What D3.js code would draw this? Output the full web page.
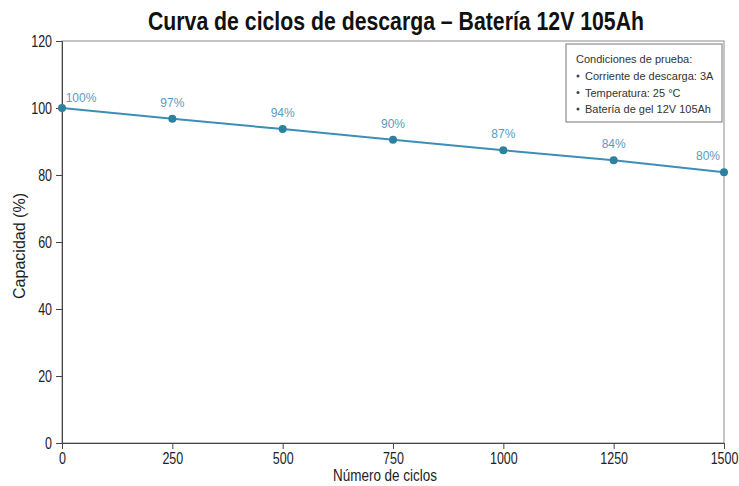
<!DOCTYPE html>
<html>
<head>
<meta charset="utf-8">
<script src="https://cdn.jsdelivr.net/npm/d3@7"></script>
<style>
  body { margin: 0; background: #fff; }
  text { font-family: "Liberation Sans", Arial, sans-serif; }
</style>
</head>
<body>
<div id="chart"></div>
<script>
var width = 739,
    height = 486,
    margin = {top: 41, right: 15, bottom: 43, left: 62},
    squeeze = 0.78;   // narrow look of the original font

// data
var cycles = [0, 250, 500, 750, 1000, 1250, 1500];
var capacity = [100, 96.8, 93.7, 90.5, 87.4, 84.4, 80.8];
var pointLabels = ['100%', '97%', '94%', '90%', '87%', '84%', '80%'];
var xTicks = [0, 250, 500, 750, 1000, 1250, 1500];
var yTicks = [0, 20, 40, 60, 80, 100, 120];
var conditions = ['Corriente de descarga: 3A', 'Temperatura: 25 °C', 'Batería de gel 12V 105Ah'];

var svg = d3.select('#chart').append('svg')
    .attr('width', width)
    .attr('height', height);

var x = d3.scaleLinear()
    .domain([0, 1500])
    .range([margin.left, width - margin.right]);

var y = d3.scaleLinear()
    .domain([0, 120])
    .range([height - margin.bottom, margin.top]);

// frame (top / right)
svg.append('rect')
    .attr('x', x(0))
    .attr('y', y(120))
    .attr('width', x(1500) - x(0))
    .attr('height', y(0) - y(120))
    .attr('fill', 'none')
    .attr('stroke', '#8a8a8a')
    .attr('stroke-width', 1);

// axes
var xAxis = svg.append('g')
    .attr('transform', 'translate(0,' + y(0) + ')')
    .call(d3.axisBottom(x).tickValues(xTicks).tickSize(6).tickPadding(4).tickFormat(d3.format('d')));

var yAxis = svg.append('g')
    .attr('transform', 'translate(' + x(0) + ',0)')
    .call(d3.axisLeft(y).tickValues(yTicks).tickSize(6).tickPadding(4));

[xAxis, yAxis].forEach(function(g) {
  g.selectAll('path, line').attr('stroke', '#444');
  g.selectAll('text').attr('fill', '#222').style('font-size', '16px')
      .attr('transform', 'scale(' + squeeze + ',1)');
});
yAxis.selectAll('text').attr('x', -10 / squeeze);

// title
svg.append('text')
    .attr('x', 396)
    .attr('y', 30)
    .attr('text-anchor', 'middle')
    .attr('font-weight', 'bold')
    .style('font-size', '25px')
    .attr('textLength', 496)
    .attr('lengthAdjust', 'spacingAndGlyphs')
    .attr('fill', '#111')
    .text('Curva de ciclos de descarga – Batería 12V 105Ah');

// axis titles
svg.append('text')
    .attr('x', 385)
    .attr('y', 481)
    .attr('text-anchor', 'middle')
    .style('font-size', '16px')
    .attr('textLength', 104)
    .attr('lengthAdjust', 'spacingAndGlyphs')
    .attr('fill', '#222')
    .text('Número de ciclos');

svg.append('text')
    .attr('transform', 'translate(25,' + ((y(0) + y(120)) / 2 + 4) + ') rotate(-90)')
    .attr('text-anchor', 'middle')
    .style('font-size', '17px')
    .attr('textLength', 106)
    .attr('lengthAdjust', 'spacingAndGlyphs')
    .attr('fill', '#222')
    .text('Capacidad (%)');

// line
var line = d3.line()
    .x(function(d, i) { return x(cycles[i]); })
    .y(function(d) { return y(d); });

svg.append('path')
    .datum(capacity)
    .attr('d', line)
    .attr('fill', 'none')
    .attr('stroke', '#3b8fb6')
    .attr('stroke-width', 2);

svg.selectAll('circle.pt')
    .data(capacity)
  .enter().append('circle')
    .attr('class', 'pt')
    .attr('cx', function(d, i) { return x(cycles[i]); })
    .attr('cy', function(d) { return y(d); })
    .attr('r', 4)
    .attr('fill', '#2f7f9e');

// point labels
svg.selectAll('text.lbl')
    .data(capacity)
  .enter().append('text')
    .attr('class', 'lbl')
    .attr('x', function(d, i) {
      if (i === 0) return x(cycles[i]) + 19;
      if (i === capacity.length - 1) return x(cycles[i]) - 16;
      return x(cycles[i]);
    })
    .attr('y', function(d, i) { return y(d) - (i === 0 ? 6 : 12); })
    .attr('text-anchor', 'middle')
    .style('font-size', '12px')
    .attr('fill', '#5b9ac2')
    .text(function(d, i) { return pointLabels[i]; });

// conditions box
var box = svg.append('g').attr('transform', 'translate(566,44)');
box.append('rect')
    .attr('width', 156)
    .attr('height', 78)
    .attr('fill', '#fff')
    .attr('stroke', '#777')
    .attr('stroke-width', 1);

box.append('text')
    .attr('x', 10)
    .attr('y', 19)
    .style('font-size', '11px')
    .attr('fill', '#333')
    .text('Condiciones de prueba:');

conditions.forEach(function(c, i) {
  box.append('circle')
      .attr('cx', 12)
      .attr('cy', 32 + i * 16.5)
      .attr('r', 1.5)
      .attr('fill', '#444');
  box.append('text')
      .attr('x', 19)
      .attr('y', 36 + i * 16.5)
      .style('font-size', '11px')
      .attr('fill', '#333')
      .text(c);
});
</script>
</body>
</html>
